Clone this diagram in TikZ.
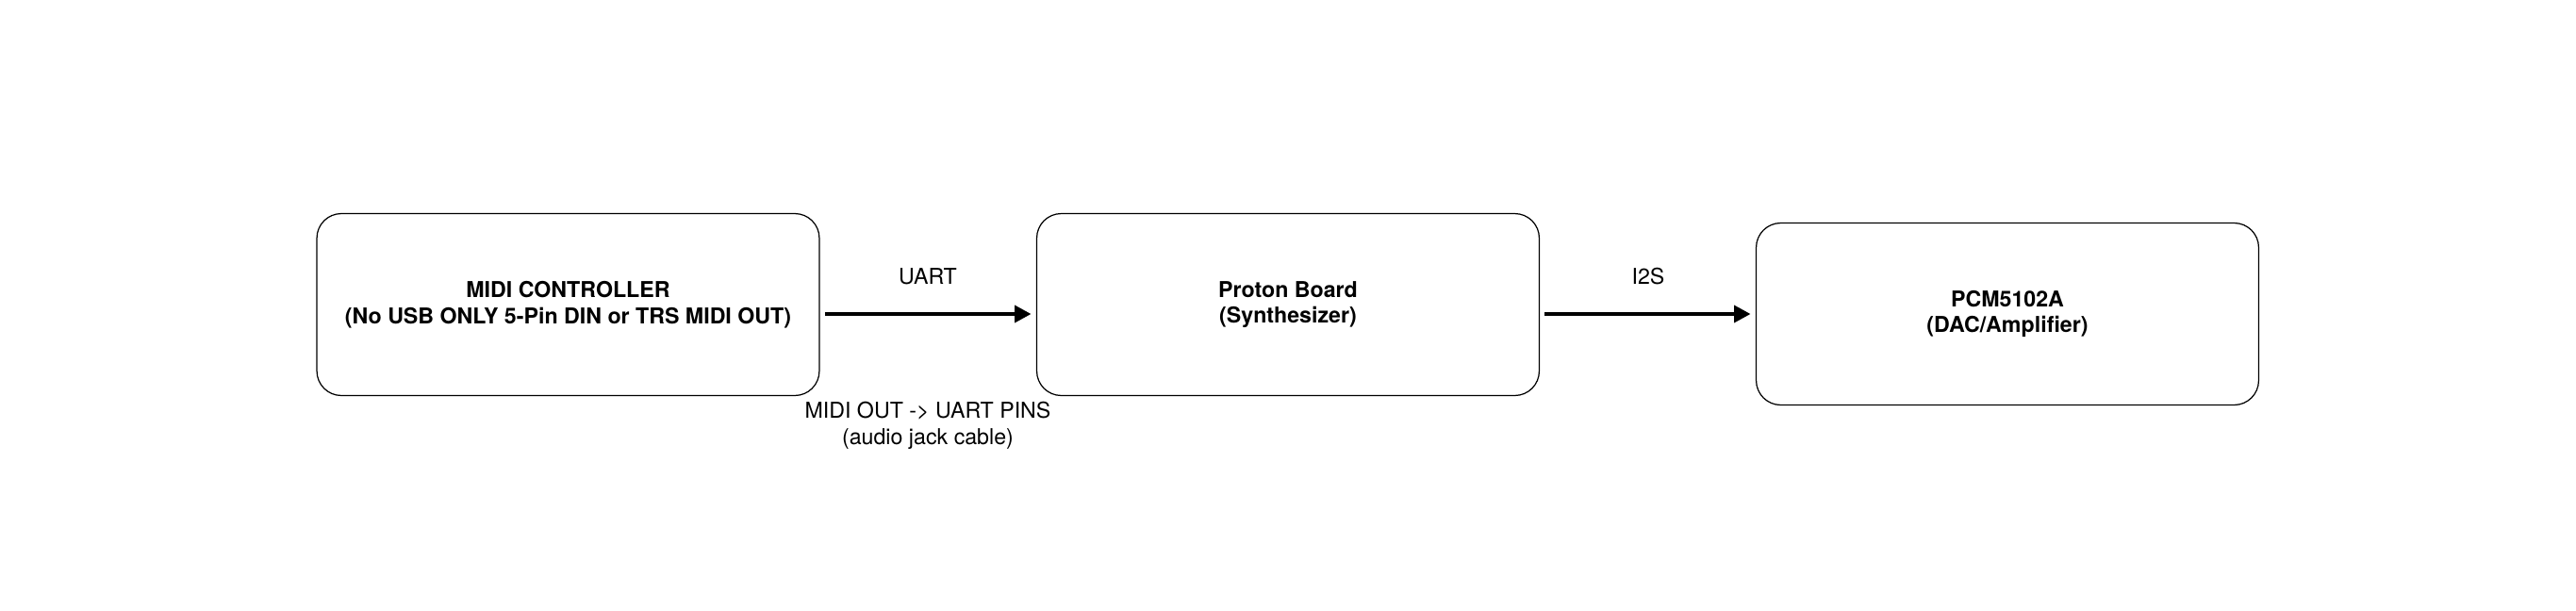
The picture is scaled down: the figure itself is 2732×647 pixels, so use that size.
\documentclass[tikz,border=0pt]{standalone}
\usepackage{fontspec}
\setmainfont{TeX Gyre Heros}
\usetikzlibrary{arrows.meta}

\begin{document}
\begin{tikzpicture}[x=0.02cm, y=-0.02cm,
  block/.style={draw, line width=0.7pt, rounded corners=0.52cm,
    minimum width=10.66cm, minimum height=3.86cm, align=center,
    font=\fontsize{13.2}{15.8}\selectfont\bfseries},
  link/.style={line width=2.8pt, -{Triangle[length=10pt,width=10pt]},
    shorten <=3pt, shorten >=3pt},
  tag/.style={align=center, font=\fontsize{13.2}{15.8}\selectfont}]
 \useasboundingbox (0,0) rectangle (2732,647);
 \node[block] (midi) at (602.5,323) {MIDI CONTROLLER\\(No USB ONLY 5-Pin DIN or TRS MIDI OUT)};
 \node[block] (proton) at (1366,323) {Proton Board\\(Synthesizer)};
 \node[block] (dac) at (2129,333) {PCM5102A\\(DAC/Amplifier)};
 \draw [link] (midi.east |- dac.west) -- (proton.west |- dac.west);
 \draw [link] (proton.east |- dac.west) -- (dac.west);
 \node[tag] (uart) at (984,293) {UART};
 \node[tag] (i2s) at (1748,293) {I2S};
 \node[tag] (cable) at (984,451) {MIDI OUT -> UART PINS\\(audio jack cable)};
\end{tikzpicture}
\end{document}
